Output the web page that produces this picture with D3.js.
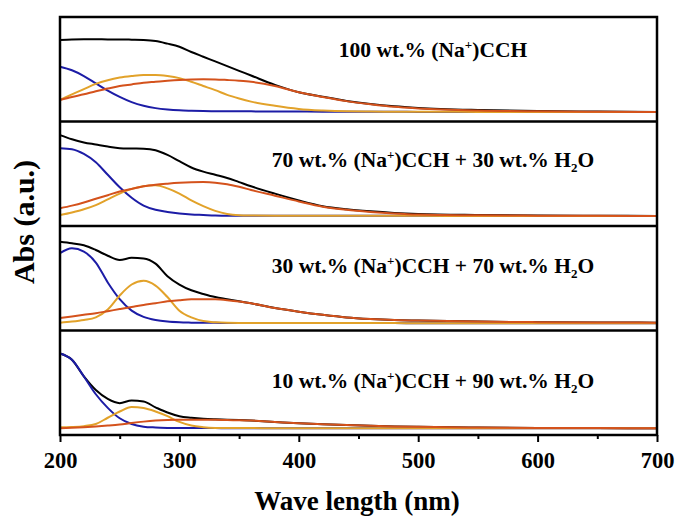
<!DOCTYPE html>
<html>
<head>
<meta charset="utf-8">
<script src="https://cdn.jsdelivr.net/npm/d3@7"></script>
<style>
  body { margin: 0; background: #fff; }
  text { font-family: "Liberation Serif", "Times New Roman", serif; font-weight: bold; }
</style>
</head>
<body>
<div id="chart"></div>
<script>
// wavelength grid (nm)
const wl = [200,210,220,230,240,250,260,270,280,290,300,310,320,330,340,350,360,380,400,420,440,460,480,500,550,600,650,700];

// 100 wt.% (Na+)CCH
const black100  = [0.78,0.785,0.787,0.787,0.785,0.785,0.783,0.78,0.77,0.745,0.715,0.665,0.62,0.575,0.53,0.485,0.44,0.35,0.28,0.237,0.197,0.167,0.145,0.13,0.11,0.10,0.095,0.09];
const blue100   = [0.524,0.49,0.435,0.365,0.295,0.235,0.185,0.15,0.128,0.115,0.107,0.103,0.10,0.099,0.098,0.097,0.097,0.096,0.095,0.094,0.094,0.093,0.093,0.092,0.092,0.091,0.091,0.09];
const yellow100 = [0.206,0.26,0.31,0.36,0.395,0.42,0.435,0.445,0.445,0.435,0.415,0.38,0.34,0.30,0.255,0.22,0.19,0.15,0.12,0.105,0.097,0.095,0.094,0.093,0.092,0.091,0.091,0.09];
const red100    = [0.206,0.235,0.26,0.29,0.315,0.34,0.355,0.37,0.38,0.39,0.398,0.403,0.405,0.403,0.397,0.39,0.38,0.34,0.28,0.235,0.195,0.165,0.14,0.125,0.105,0.097,0.093,0.09];

// 70 wt.% (Na+)CCH + 30 wt.% H2O
const black70  = [0.87,0.83,0.80,0.78,0.76,0.745,0.742,0.74,0.725,0.68,0.62,0.56,0.52,0.49,0.46,0.42,0.38,0.31,0.245,0.19,0.16,0.14,0.125,0.115,0.105,0.10,0.098,0.096];
const blue70   = [0.745,0.735,0.69,0.61,0.49,0.37,0.27,0.195,0.155,0.135,0.12,0.11,0.105,0.10,0.098,0.098,0.098,0.097,0.097,0.097,0.097,0.097,0.097,0.097,0.096,0.096,0.096,0.096];
const yellow70 = [0.105,0.13,0.16,0.20,0.255,0.31,0.355,0.38,0.39,0.36,0.31,0.245,0.19,0.145,0.115,0.103,0.10,0.098,0.098,0.097,0.097,0.097,0.097,0.097,0.096,0.096,0.096,0.096];
const red70    = [0.17,0.195,0.225,0.26,0.295,0.33,0.355,0.38,0.395,0.405,0.413,0.418,0.42,0.415,0.40,0.375,0.345,0.29,0.235,0.185,0.155,0.135,0.12,0.11,0.102,0.099,0.097,0.096];

// 30 wt.% (Na+)CCH + 70 wt.% H2O
const black30  = [0.85,0.835,0.815,0.77,0.715,0.675,0.695,0.69,0.64,0.52,0.44,0.385,0.35,0.32,0.30,0.28,0.26,0.215,0.18,0.15,0.125,0.11,0.10,0.095,0.085,0.08,0.077,0.075];
const blue30   = [0.74,0.787,0.755,0.65,0.46,0.30,0.19,0.13,0.10,0.085,0.078,0.075,0.073,0.073,0.072,0.072,0.072,0.072,0.071,0.071,0.071,0.071,0.071,0.07,0.07,0.07,0.07,0.07];
const yellow30 = [0.075,0.085,0.10,0.125,0.20,0.335,0.44,0.475,0.43,0.32,0.19,0.125,0.09,0.078,0.073,0.072,0.072,0.072,0.071,0.071,0.071,0.071,0.071,0.07,0.07,0.07,0.07,0.07];
const red30    = [0.12,0.135,0.15,0.165,0.185,0.205,0.225,0.245,0.26,0.28,0.29,0.298,0.30,0.298,0.29,0.278,0.26,0.215,0.18,0.15,0.125,0.11,0.10,0.095,0.085,0.08,0.077,0.075];

// 10 wt.% (Na+)CCH + 90 wt.% H2O
const black10  = [0.78,0.72,0.56,0.43,0.345,0.305,0.33,0.32,0.265,0.215,0.18,0.165,0.155,0.15,0.147,0.143,0.138,0.125,0.112,0.103,0.095,0.088,0.082,0.078,0.072,0.068,0.066,0.064];
const blue10   = [0.78,0.72,0.56,0.39,0.26,0.16,0.105,0.08,0.072,0.068,0.066,0.066,0.066,0.066,0.065,0.065,0.065,0.065,0.065,0.065,0.065,0.065,0.065,0.065,0.064,0.064,0.064,0.064];
const yellow10 = [0.074,0.077,0.085,0.105,0.165,0.225,0.268,0.258,0.225,0.18,0.125,0.09,0.075,0.068,0.066,0.066,0.066,0.065,0.065,0.065,0.065,0.065,0.065,0.065,0.064,0.064,0.064,0.064];
const red10    = [0.064,0.069,0.075,0.082,0.09,0.10,0.115,0.128,0.138,0.144,0.146,0.147,0.147,0.146,0.143,0.141,0.138,0.125,0.112,0.103,0.095,0.088,0.082,0.078,0.072,0.068,0.066,0.064];

const xTicks = [200, 300, 400, 500, 600, 700];
const xMinor = [250, 350, 450, 550, 650];

const panels = [
  { series: [black100, blue100, yellow100, red100], label: ["100 wt.% (Na", "+", ")CCH"] },
  { series: [black70, blue70, yellow70, red70], label: ["70 wt.% (Na", "+", ")CCH + 30 wt.% H", "2", "O"] },
  { series: [black30, blue30, yellow30, red30], label: ["30 wt.% (Na", "+", ")CCH + 70 wt.% H", "2", "O"] },
  { series: [black10, blue10, yellow10, red10], label: ["10 wt.% (Na", "+", ")CCH + 90 wt.% H", "2", "O"] }
];
const colors = ["#000000", "#1c1ca6", "#e2a22a", "#d4521c"];

const W = 676, H = 516;
const margin = { top: 17, right: 19, bottom: 81, left: 60 };
const plotW = W - margin.left - margin.right;
const plotH = H - margin.top - margin.bottom;
const panelH = plotH / panels.length;

const svg = d3.select("#chart").append("svg")
  .attr("width", W).attr("height", H);

const g = svg.append("g")
  .attr("transform", "translate(" + margin.left + "," + margin.top + ")");

const x = d3.scaleLinear().domain([200, 700]).range([0, plotW]);

panels.forEach((p, i) => {
  const y0 = i * panelH;
  const y = d3.scaleLinear().domain([0, 1]).range([y0 + panelH, y0]);

  const line = d3.line()
    .x((d, k) => x(wl[k]))
    .y(d => y(d))
    .curve(d3.curveMonotoneX);

  p.series.forEach((s, j) => {
    g.append("path")
      .datum(s)
      .attr("fill", "none")
      .attr("stroke", colors[j])
      .attr("stroke-width", 2)
      .attr("stroke-linejoin", "round")
      .attr("d", line);
  });

  // label, with the superscript + and the subscript 2
  const baselines = [40, 150, 256, 371];
  const t = g.append("text")
    .attr("x", 373)
    .attr("y", baselines[i])
    .attr("text-anchor", "middle")
    .attr("font-size", 21.5);
  p.label.forEach((part, k) => {
    const ts = t.append("tspan").text(part);
    if (k === 1) ts.attr("font-size", 13).attr("dy", -8);
    if (k === 2) ts.attr("dy", 8);
    if (k === 3) ts.attr("font-size", 13).attr("dy", 5);
    if (k === 4) ts.attr("dy", -5);
  });
});

// frame and separators
g.append("rect")
  .attr("width", plotW).attr("height", plotH)
  .attr("fill", "none").attr("stroke", "#000").attr("stroke-width", 2.5);
for (let i = 1; i < panels.length; i++) {
  g.append("line")
    .attr("x1", 0).attr("x2", plotW)
    .attr("y1", i * panelH).attr("y2", i * panelH)
    .attr("stroke", "#000").attr("stroke-width", 2.5);
}

// x axis
const axis = g.append("g")
  .attr("transform", "translate(0," + plotH + ")")
  .call(d3.axisBottom(x).tickValues(xTicks).tickSize(7).tickPadding(10).tickFormat(d3.format("d")));
axis.select(".domain").remove();
axis.selectAll("line").attr("stroke-width", 2);
axis.selectAll("text").attr("font-size", 22.5).attr("fill", "#000")
  .style("font-family", "'Liberation Serif', serif").style("font-weight", "bold");

const minor = g.append("g")
  .attr("transform", "translate(0," + plotH + ")")
  .call(d3.axisBottom(x).tickValues(xMinor).tickSize(4).tickFormat(""));
minor.select(".domain").remove();
minor.selectAll("line").attr("stroke-width", 2);

// axis titles
svg.append("text")
  .attr("x", 357)
  .attr("y", 510)
  .attr("text-anchor", "middle")
  .attr("font-size", 27)
  .text("Wave length (nm)");

svg.append("text")
  .attr("transform", "translate(34,222) rotate(-90)")
  .attr("text-anchor", "middle")
  .attr("font-size", 30)
  .text("Abs (a.u.)");
</script>
</body>
</html>
